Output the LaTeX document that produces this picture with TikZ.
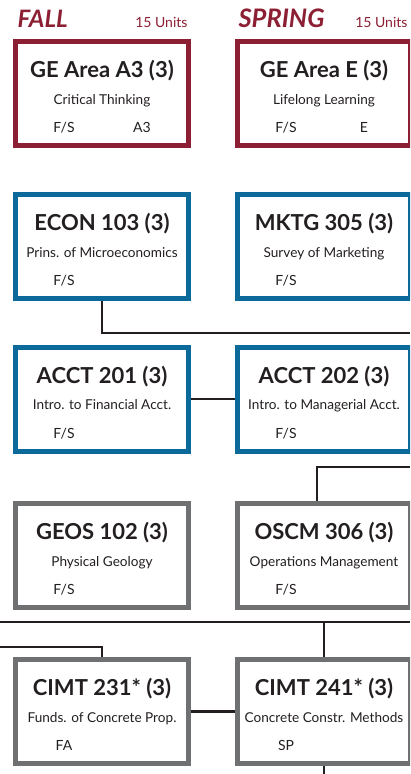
\documentclass[tikz,border=0pt]{standalone}
\usepackage{fontspec}
\setmainfont{Lato}
\usepackage{tikz}
\usetikzlibrary{calc}
\definecolor{maroon}{HTML}{8C1F33}
\definecolor{csublue}{HTML}{0B6A9A}
\definecolor{slate}{HTML}{6F7072}
\definecolor{ink}{HTML}{231F20}
\tikzset{
	coursebox/.style={draw, line width=5pt, fill=white, minimum width=173pt, minimum height=104pt, inner sep=0pt},
	coursetitle/.style={anchor=base, text=ink, font=\fontsize{22}{22}\selectfont\bfseries},
	coursesub/.style={anchor=base, text=ink, font=\fontsize{13.6}{14}\selectfont},
	courseterm/.style={anchor=base, text=ink, font=\fontsize{14}{14}\selectfont},
	link/.style={draw=ink, line width=2.2pt},
	termhead/.style={anchor=base west, text=maroon, font=\fontsize{24}{24}\selectfont\bfseries\itshape},
	unithead/.style={anchor=base east, text=maroon, font=\fontsize{14}{14}\selectfont}
}
\newcommand{\drawcourse}[8]{   % name, x, y, colour, title, subtitle, term, area
	\node[coursebox, draw=#4] (#1) at (#2, #3) {};
	\node[coursetitle] (#1title) at (#2, #3 - 16) {#5};
	\node[coursesub] (#1sub) at (#2, #3 + 10.5) {#6};
	\node[courseterm] (#1term) at (#2 - 38, #3 + 39) {#7};
	\node[courseterm] (#1area) at (#2 + 40, #3 + 39) {#8};
}

\begin{document}
\begin{tikzpicture}[x=1pt, y=-1pt]
\useasboundingbox (0, 0) rectangle (410, 774);
\clip (0, 0) rectangle (410, 774);

% headers
\node[termhead] (fall) at (14, 27) {FALL};
\node[unithead] (fallunits) at (191, 27) {15 Units};
\node[termhead, font=\fontsize{25.5}{25}\selectfont\bfseries\itshape] (spring) at (235, 27) {SPRING};
\node[unithead] (springunits) at (411, 27) {15 Units};

% courses
\drawcourse{gea}{102}{93.5}{maroon}{GE Area A3 (3)}{Critical Thinking}{F/S}{A3};
\drawcourse{gee}{324}{93.5}{maroon}{GE Area E (3)}{Lifelong Learning}{F/S}{E};
\drawcourse{econ}{102}{246.5}{csublue}{ECON 103 (3)}{Prins. of Microeconomics}{F/S}{};
\drawcourse{mktg}{324}{246.5}{csublue}{MKTG 305 (3)}{Survey of Marketing}{F/S}{};
\drawcourse{accta}{102}{399}{csublue}{ACCT 201 (3)}{Intro. to Financial Acct.}{F/S}{};
\drawcourse{acctb}{324}{399}{csublue}{ACCT 202 (3)}{Intro. to Managerial Acct.}{F/S}{};
\drawcourse{geos}{102}{555.5}{slate}{GEOS 102 (3)}{Physical Geology}{F/S}{};
\drawcourse{oscm}{324}{555.5}{slate}{OSCM 306 (3)}{Operations Management}{F/S}{};
\drawcourse{cimta}{102}{711.5}{slate}{CIMT 231* (3)}{Funds. of Concrete Prop.}{FA}{};
\drawcourse{cimtb}{324}{711.5}{slate}{CIMT 241* (3)}{Concrete Constr. Methods}{SP}{};

% loose ends at the page edge
\coordinate (econout) at (410, 333);
\coordinate (oscmin) at (410, 467);
\coordinate (barleft) at (0, 622);
\coordinate (barright) at (410, 622);
\coordinate (cimtin) at (0, 647);
\coordinate (cimtout) at (324, 774);

% connectors
\draw[link] (econ.south) |- (econout);
\draw[link] (accta.east) -- (acctb.west);
\draw[link] (oscmin) -| ([xshift=-7pt]oscm.north);
\draw[link] (barleft) -- (barright);
\draw[link] (cimtb.north) -- (cimtb.north |- barleft);
\draw[link] (cimtin) -| (cimta.north);
\draw[link] (cimta.east) -- (cimtb.west);
\draw[link] (cimtb.south) -- (cimtout);
\end{tikzpicture}
\end{document}
